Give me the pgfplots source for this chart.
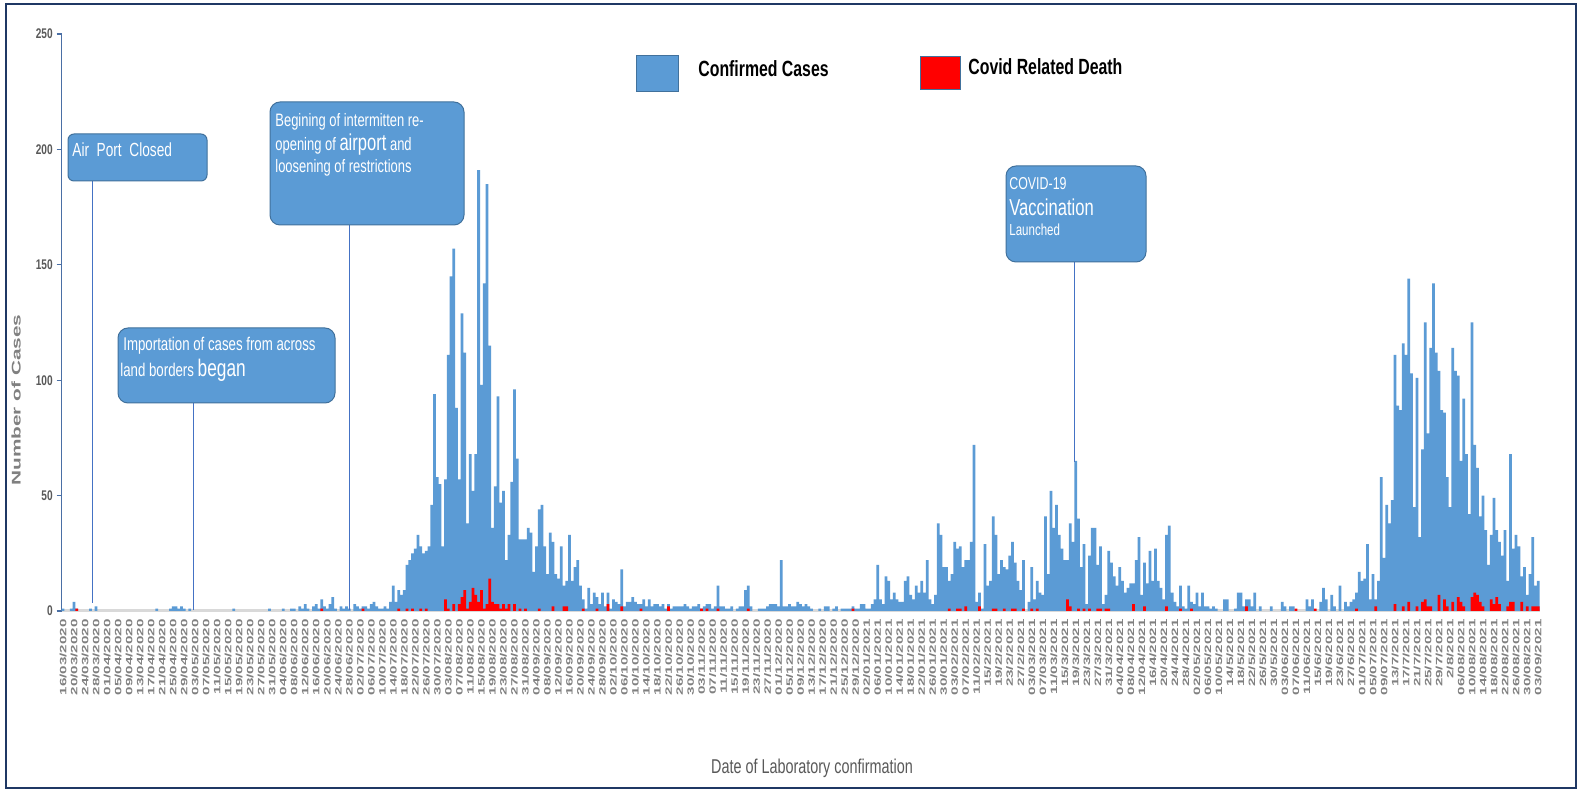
\documentclass[border=0pt]{standalone}
\usepackage{fontspec}
\usepackage{pgfplots}
\pgfplotsset{compat=1.18}
\setmainfont{Liberation Sans}
\newfontfamily\nar[FakeStretch=0.72]{Liberation Sans}
\newfontfamily\tall[FakeStretch=1.65]{Liberation Sans}
\definecolor{barblue}{HTML}{5B9BD5}
\definecolor{boxedge}{HTML}{41719C}
\definecolor{callline}{HTML}{4472C4}
\definecolor{yaxis}{HTML}{4A6FA5}
\definecolor{axisgray}{HTML}{D9D9D9}
\definecolor{labgray}{HTML}{808080}
\definecolor{ticgray}{HTML}{595959}
\definecolor{frame}{HTML}{1F3864}

\begin{document}
\begin{tikzpicture}
\fill[white] (0pt,0pt) rectangle (790pt,-395pt);

\begin{axis}[
    at={(30.85pt,-305.5pt)}, anchor=south west,
    scale only axis, width=738.9pt, height=288.5pt,
    xmin=-0.5, xmax=536.5, ymin=0, ymax=250,
    axis x line*=bottom, axis y line*=left,
    x axis line style={draw=axisgray, line width=1.5pt, -},
    y axis line style={draw=yaxis, line width=0.6pt, -},
    ytick={0,50,...,250},
    ytick style={draw=yaxis, line width=0.6pt},
    tick align=outside, major tick length=2.5pt,
    yticklabel style={font=\nar\bfseries\fontsize{7}{8}\selectfont, text=ticgray, xshift=1.5pt},
    /pgf/number format/assume math mode=true,
    xtick={0,4,...,536}, xtick style={draw=none},
    xticklabel style={font=\tall\bfseries\fontsize{4.6}{5}\selectfont, text=labgray,
        rotate=90, anchor=east, inner sep=1.5pt},
    xticklabels={16/03/2020,20/03/2020,24/03/2020,28/03/2020,01/04/2020,05/04/2020,09/04/2020,13/04/2020,17/04/2020,21/04/2020,25/04/2020,29/04/2020,03/05/2020,07/05/2020,11/05/2020,15/05/2020,19/05/2020,23/05/2020,27/05/2020,31/05/2020,04/06/2020,08/06/2020,12/06/2020,16/06/2020,20/06/2020,24/06/2020,28/06/2020,02/07/2020,06/07/2020,10/07/2020,14/07/2020,18/07/2020,22/07/2020,26/07/2020,30/07/2020,03/08/2020,07/08/2020,11/08/2020,15/08/2020,19/08/2020,23/08/2020,27/08/2020,31/08/2020,04/09/2020,08/09/2020,12/09/2020,16/09/2020,20/09/2020,24/09/2020,28/09/2020,02/10/2020,06/10/2020,10/10/2020,14/10/2020,18/10/2020,22/10/2020,26/10/2020,30/10/2020,03/11/2020,07/11/2020,11/11/2020,15/11/2020,19/11/2020,23/11/2020,27/11/2020,01/12/2020,05/12/2020,09/12/2020,13/12/2020,17/12/2020,21/12/2020,25/12/2020,29/12/2020,02/01/2021,06/01/2021,10/01/2021,14/01/2021,18/01/2021,22/01/2021,26/01/2021,30/01/2021,03/02/2021,07/02/2021,11/02/2021,15/2/2021,19/2/2021,23/2/2021,27/2/2021,03/03/2021,07/03/2021,11/03/2021,15/3/2021,19/3/2021,23/3/2021,27/3/2021,31/3/2021,04/04/2021,08/04/2021,12/04/2021,16/4/2021,20/4/2021,24/4/2021,28/4/2021,02/05/2021,06/05/2021,10/05/2021,14/5/2021,18/5/2021,22/5/2021,26/5/2021,30/5/2021,03/06/2021,07/06/2021,11/06/2021,15/6/2021,19/6/2021,23/6/2021,27/6/2021,01/07/2021,05/07/2021,09/07/2021,13/7/2021,17/7/2021,21/7/2021,25/7/2021,29/7/2021,2/8/2021,06/08/2021,10/08/2021,14/08/2021,18/08/2021,22/08/2021,26/08/2021,30/08/2021,03/09/2021},
    clip=false,
]
% confirmed cases per day (day 0 = 16/03/2020)
\addplot[ybar, bar width=1, bar shift=0pt, fill=barblue, draw=none] coordinates {
(0,1)(3,1)(4,4)(5,1)(10,1)(12,2)(34,1)(39,1)(40,2)(41,2)(42,1)(43,2)(44,1)(46,1)
(62,1)(75,1)(80,1)(83,1)(84,1)(86,2)(87,1)(88,3)(89,1)(91,2)(92,3)(93,1)(94,5)
(95,2)(96,1)(97,3)(98,6)(99,1)(101,2)(102,1)(103,2)(104,1)(106,3)(107,2)(108,1)
(109,2)(110,2)(111,1)(112,3)(113,4)(114,2)(115,1)(116,1)
(117,2)(118,1)(119,4)(120,11)(121,4)(122,9)(123,7)(124,9)(125,20)(126,22)(127,25)
(128,27)(129,33)(130,28)(131,25)(132,26)(133,28)(134,46)(135,94)(136,58)(137,55)
(138,28)(139,57)(140,111)(141,145)(142,157)(143,88)(144,57)(145,129)(146,112)
(147,38)(148,68)(149,52)(150,68)(151,191)(152,98)(153,142)(154,185)(155,115)
(156,36)(157,54)(158,93)(159,47)(160,52)(161,22)(162,33)(163,56)(164,96)(165,66)
(166,31)(167,31)(168,31)(169,36)(170,34)(171,17)(172,28)(173,44)(174,46)(175,28)
(176,16)(177,34)(178,30)(179,16)(180,14)(181,28)(182,11)
(183,13)(184,33)(185,13)(186,19)(187,22)(188,11)(189,5)(190,1)(191,10)
(192,3)(193,8)(194,6)(195,3)(196,8)(197,2)(198,8)(199,1)(200,5)(201,4)(202,3)
(203,18)(204,2)(205,4)(206,4)(207,6)(208,4)(209,3)(210,3)(211,5)(212,2)(213,5)
(214,2)(215,3)(216,3)(217,2)(218,3)(219,1)
(220,3)(221,1)(222,2)(223,2)(224,2)(225,2)(226,3)(227,2)(228,1)(229,2)(230,2)
(231,3)(232,1)(233,2)(234,3)(235,3)(236,1)(237,2)(238,11)(239,2)(240,2)(241,1)
(242,1)(243,2)(245,1)(246,2)(247,2)(248,9)(249,11)(250,2)(253,1)(254,1)(255,1)
(256,2)(257,3)(258,3)(259,3)(260,2)(261,22)(262,2)(263,2)(264,3)(265,2)(266,2)
(267,4)(268,3)(269,2)(270,3)(271,2)(272,1)(275,1)(277,2)(278,2)(280,1)(281,2)
(283,1)(284,1)(285,1)(286,1)(287,2)
(288,1)(289,1)(290,3)(291,3)(292,1)(293,1)(294,3)(295,5)(296,20)(297,5)(298,3)
(299,15)(300,13)(301,5)(302,8)(303,5)(304,4)(305,4)(306,13)(307,15)(308,7)(309,5)
(310,11)(311,8)(312,13)(313,8)(314,22)(315,5)(316,3)(317,7)(318,38)(319,33)
(320,19)(321,19)(322,13)(323,16)(324,30)(325,27)(326,28)(327,19)(328,22)(329,22)
(330,30)(331,72)(332,4)(333,8)(334,1)(335,29)(336,11)(337,13)(338,41)(339,33)
(340,16)(341,22)(342,19)(343,18)(344,24)(345,30)(346,21)(347,13)(348,9)(349,22)
(351,4)(352,19)(353,5)(354,13)(355,8)(356,7)(357,41)(358,16)(359,52)(360,36)
(361,46)(362,33)(363,27)(364,22)(365,22)(366,38)(367,30)(368,65)(369,40)(370,19)
(371,29)(372,3)(373,24)(374,36)(375,36)(376,20)(377,28)(378,3)(379,7)
(380,26)(381,21)(382,15)(383,11)(384,19)(385,13)(386,8)(387,10)(388,12)(389,12)
(390,22)(391,32)(392,7)(393,21)(394,12)(395,26)(396,13)(397,27)(398,13)(399,10)
(400,5)(401,33)(402,37)(403,8)(404,4)(405,2)(406,11)(407,2)(408,1)(409,11)
(410,4)(411,3)(412,8)(413,2)(414,8)(415,2)(416,2)(417,1)(418,2)(419,1)(422,5)
(423,5)(426,1)(427,8)(428,8)(429,2)(430,5)(431,5)(432,2)(433,8)(435,2)(439,2)
(443,4)(444,2)(446,2)(447,2)(452,5)(453,2)(454,5)(457,4)(458,10)(459,5)(461,7)
(462,2)(464,11)(466,4)(467,2)
(468,4)(469,5)(470,8)(471,17)(472,13)(473,14)(474,29)(475,5)(476,16)(477,5)
(478,13)(479,58)(480,23)(481,46)(482,38)(483,48)(484,111)(485,89)(486,87)
(487,116)(488,111)(489,144)(490,103)(491,45)(492,101)(493,32)(494,70)(495,125)
(496,77)(497,114)(498,142)(499,112)(500,104)(501,87)(502,86)(503,58)(504,45)
(505,114)(506,104)(507,102)(508,65)(509,92)(510,68)(511,42)(512,125)(513,72)
(514,62)(515,41)(516,50)(517,35)(518,20)(519,33)(520,49)(521,35)(522,30)(523,24)
(524,35)(525,13)(526,68)(527,27)(528,33)(529,28)(530,15)(531,19)(532,7)(533,16)
(534,32)(535,11)(536,13)
};
% covid related deaths per day
\addplot[ybar, bar width=1, bar shift=0pt, fill=red, draw=none] coordinates {
(5,1)(94,1)(109,1)
(122,1)(125,1)(127,1)(130,1)(132,1)(139,5)(140,1)(142,3)(144,3)(145,6)(146,9)
(147,1)(148,4)(149,10)(150,7)(151,4)(152,9)(153,1)(154,3)(155,14)(156,4)(157,3)
(158,3)(159,1)(160,3)(161,1)(162,3)(164,3)(166,1)(168,1)(173,1)(178,2)(182,2)
(183,2)(189,1)(194,1)(198,3)(203,2)(210,1)(220,2)(232,1)(234,1)(238,1)(249,1)
(287,1)
(322,1)(325,1)(326,1)(328,2)(333,2)(338,1)(339,1)(342,1)(345,1)(346,1)(349,1)
(352,1)(354,1)(365,5)(366,2)(369,1)(371,1)(373,1)(376,1)(377,1)(379,1)(380,1)
(389,3)(393,2)(401,2)(406,1)(410,1)(430,2)(448,1)(455,1)
(470,1)(477,2)(484,3)(487,2)(489,4)(492,2)(494,4)(495,5)(496,2)(497,2)(500,7)
(502,5)(503,2)(505,4)(507,6)(508,4)(509,2)(512,6)(513,8)(514,7)(515,4)(516,2)
(519,5)(520,3)(521,6)(522,3)(525,2)(526,4)(527,4)(530,4)(532,2)(534,2)(535,2)
(536,2)
};
\end{axis}

\begin{scope}[x=0.5pt, y=-0.5pt]
% outer frame
\draw[frame, line width=0.9pt] (6,4) rectangle (1576,788);
% axis titles
\node[rotate=90, font=\tall\bfseries\fontsize{6.3}{7}\selectfont, text=labgray] at (16,400) {Number of Cases};
\node[font=\nar\fontsize{10}{11}\selectfont, text=ticgray] at (812,768) {Date of Laboratory confirmation};
% legend
\filldraw[fill=barblue, draw=boxedge, line width=0.4pt] (636,55) rectangle (678,91);
\node[anchor=west, inner sep=0pt, font=\nar\bfseries\fontsize{11}{12}\selectfont] at (698,69) {Confirmed Cases};
\filldraw[fill=red, draw=boxedge, line width=0.4pt] (920,56) rectangle (960,89);
\node[anchor=west, inner sep=0pt, font=\nar\bfseries\fontsize{11}{12}\selectfont] at (968,67) {Covid Related Death};
% callouts
\tikzset{callout/.style={fill=barblue, draw=boxedge, line width=0.5pt, rounded corners=5pt},
  ctext/.style={anchor=west, inner sep=0pt, text=white}}
\draw[callline, line width=0.5pt] (92,181) -- (92,603);
\draw[callout, rounded corners=3pt] (68,134) rectangle (207,181);
\node[ctext, font=\nar\fontsize{9.5}{11}\selectfont] at (72,150) {Air\ \ Port\ \ Closed};

\draw[callline, line width=0.5pt] (193,403) -- (193,610);
\draw[callout] (118,328) rectangle (335,403);
\node[ctext, font=\nar\fontsize{9.2}{10}\selectfont] at (123,346) {Importation of cases from across};
\node[ctext, font=\nar\fontsize{9.2}{10}\selectfont] at (120,370) {land borders {\fontsize{12}{13}\selectfont began}};

\draw[callline, line width=0.5pt] (349,225) -- (349,610);
\draw[callout] (270,102) rectangle (464,225);
\node[ctext, font=\nar\fontsize{9}{10}\selectfont] at (275,122) {Begining of intermitten re-};
\node[ctext, font=\nar\fontsize{9}{10}\selectfont] at (275,145) {opening of {\fontsize{11.5}{12}\selectfont airport} and};
\node[ctext, font=\nar\fontsize{9}{10}\selectfont] at (275,168) {loosening of restrictions};

\draw[callline, line width=0.5pt] (1074,262) -- (1074,462);
\draw[callout] (1006,166) rectangle (1146,262);
\node[ctext, font=\nar\fontsize{8.6}{10}\selectfont] at (1009,184) {COVID-19};
\node[ctext, font=\nar\fontsize{11.5}{12}\selectfont] at (1009,207) {Vaccination};
\node[ctext, font=\nar\fontsize{8}{9}\selectfont] at (1009,230) {Launched};
\end{scope}
\pgfresetboundingbox
\path[use as bounding box] (0pt,0pt) rectangle (790pt,-395pt);
\end{tikzpicture}%
\end{document}
